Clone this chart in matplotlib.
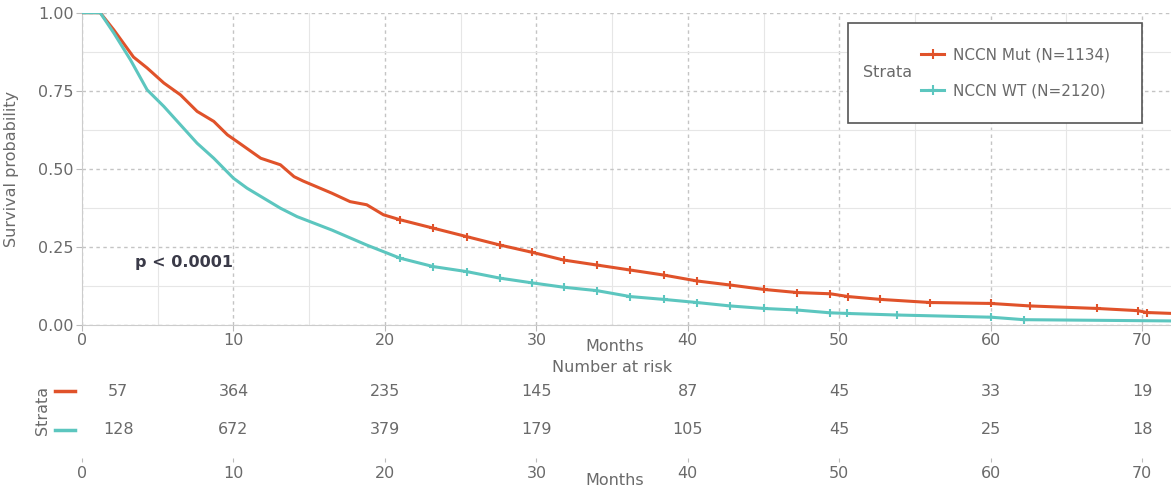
import matplotlib.pyplot as plt
from matplotlib.patches import Rectangle
from matplotlib.lines import Line2D
import numpy as np

plt.rcParams['font.family'] = ['DejaVu Sans']
fs = 11.5

# survival curves (months, survival probability)
mut_t = [0, 1.2, 2.1, 3.4, 4.3, 5.4, 6.5, 7.6, 8.7, 9.6, 10.4, 11.8, 13.1, 14.0, 14.6, 16.5, 17.7, 18.8, 19.9, 21.0,
         23.2, 25.4, 27.6, 29.7, 31.8, 34.0, 36.2, 38.4, 40.6, 42.8, 45.0, 47.2, 49.4, 50.6, 52.7, 56.0, 60.0, 62.6,
         67.0, 69.7, 70.3, 72.0]
mut_s = [1.0, 1.0, 0.945, 0.858, 0.823, 0.775, 0.737, 0.684, 0.652, 0.609, 0.582, 0.534, 0.513, 0.475, 0.461, 0.422,
         0.395, 0.385, 0.353, 0.337, 0.31, 0.283, 0.256, 0.233, 0.208, 0.192, 0.176, 0.16, 0.141, 0.128, 0.114, 0.104,
         0.1, 0.091, 0.082, 0.072, 0.069, 0.061, 0.053, 0.046, 0.04, 0.037]
wt_t = [0, 1.2, 2.1, 3.2, 4.3, 5.4, 6.5, 7.6, 8.7, 10.0, 10.9, 12.0, 13.1, 14.2, 16.5, 18.8, 19.9, 21.0, 23.2, 25.4,
        27.6, 29.7, 31.8, 34.0, 36.2, 38.4, 40.6, 42.8, 45.0, 47.2, 49.4, 50.5, 53.8, 60.0, 62.2, 72.0]
wt_s = [1.0, 1.0, 0.935, 0.849, 0.753, 0.70, 0.641, 0.582, 0.534, 0.47, 0.438, 0.406, 0.374, 0.347, 0.304, 0.256,
        0.235, 0.214, 0.187, 0.171, 0.15, 0.135, 0.121, 0.11, 0.091, 0.082, 0.072, 0.061, 0.053, 0.048, 0.039, 0.037,
        0.032, 0.025, 0.017, 0.013]

labels = ['NCCN Mut (N=1134)', 'NCCN WT (N=2120)']
risk_times = [0, 10, 20, 30, 40, 50, 60, 70]
mut_risk = [57, 364, 235, 145, 87, 45, 33, 19]
wt_risk = [128, 672, 379, 179, 105, 45, 25, 18]

c_mut = '#E0522A'
c_wt = '#5CC6BF'
txt = '#6a6a6a'

fig = plt.figure(figsize=(11.71, 4.88), dpi=100)
W, H = 1171, 488
ax = fig.add_axes([82 / W, 1 - 325 / H, 1089 / W, 312.3 / H])

ax.plot(mut_t, mut_s, color=c_mut, lw=2.2, zorder=3)
ax.plot(wt_t, wt_s, color=c_wt, lw=2.2, zorder=3)
mt, ms = np.array(mut_t), np.array(mut_s)
wt, ws = np.array(wt_t), np.array(wt_s)
ax.plot(mt[(mt > 20) & (mt < 72)], ms[(mt > 20) & (mt < 72)], '+', color=c_mut, ms=6, mew=1.5, zorder=3)
ax.plot(wt[(wt > 20) & (wt < 72)], ws[(wt > 20) & (wt < 72)], '+', color=c_wt, ms=6, mew=1.5, zorder=3)

ax.set_xlim(0, 71.9)
ax.set_ylim(0, 1)
ax.set_xticks(risk_times)
ax.set_yticks([0, 0.25, 0.5, 0.75, 1.0])
ax.set_yticklabels(['0.00', '0.25', '0.50', '0.75', '1.00'])
ax.set_xticks(np.arange(5, 75, 10), minor=True)
ax.set_yticks([0.125, 0.375, 0.625, 0.875], minor=True)
ax.grid(which='major', color='#c4c4c4', ls=(0, (2.5, 2.5)), lw=1)
ax.grid(which='minor', color='#e6e6e6', ls='-', lw=0.8)
ax.tick_params(which='minor', length=0)
ax.tick_params(which='major', colors='#bbbbbb', labelcolor=txt, labelsize=fs, length=4, pad=2)
for s in ['top', 'right']:
    ax.spines[s].set_visible(False)
for s in ['left', 'bottom']:
    ax.spines[s].set_color('#cccccc')
ax.set_ylabel('Survival probability', color=txt, fontsize=fs)
ax.yaxis.set_label_coords(-0.058, 0.5)
ax.set_xlabel('Months', color=txt, fontsize=fs)
ax.xaxis.set_label_coords(0.489, -0.07)
ax.xaxis.label.set_va('center')

ax.text(3.5, 0.2, 'p < 0.0001', fontsize=fs, fontweight='bold', color='#3a3a48', va='center')

# legend box
ax.add_patch(Rectangle((0.703, 0.647), 0.27, 0.32, transform=ax.transAxes, fill=True,
                       facecolor='white', edgecolor='#555555', lw=1.2, zorder=5))
ax.text(0.717, 0.807, 'Strata', transform=ax.transAxes, fontsize=fs, color=txt, va='center', zorder=6)
handles = [Line2D([], [], color=c_mut, lw=2.2, marker='+', ms=7, mew=1.5),
           Line2D([], [], color=c_wt, lw=2.2, marker='+', ms=7, mew=1.5)]
leg = ax.legend(handles, labels, loc='center left', bbox_to_anchor=(0.758, 0.807), frameon=False,
                fontsize=11, handlelength=1.5, handletextpad=0.6, labelspacing=1.4, labelcolor=txt)
leg.set_zorder(7)

# number at risk table
fig.text(612 / W, 1 - 367 / H, 'Number at risk', color=txt, fontsize=fs, ha='center', va='center')
ax2 = fig.add_axes([82 / W, 1 - 458 / H, 1089 / W, 86 / H])
ax2.set_xlim(0, 71.9)
ax2.set_ylim(0, 1)
xs = list(risk_times)
xs[0] = 2.4
for x, a, b in zip(xs, mut_risk, wt_risk):
    ax2.text(x, 0.779, str(a), ha='center', va='center', fontsize=fs, color=txt)
    ax2.text(x, 0.326, str(b), ha='center', va='center', fontsize=fs, color=txt)
for y, c in [(0.779, c_mut), (0.326, c_wt)]:
    ax2.plot([-0.025, -0.0065], [y, y], color=c, lw=2.5, transform=ax2.transAxes, clip_on=False)
ax2.text(-0.036, 0.55, 'Strata', rotation=90, transform=ax2.transAxes, fontsize=fs, color=txt,
         ha='center', va='center')
ax2.set_xticks(risk_times)
ax2.set_yticks([])
ax2.tick_params(axis='x', colors='#bbbbbb', labelcolor=txt, labelsize=fs, length=3, pad=3)
for s in ax2.spines.values():
    s.set_visible(False)
ax2.set_xlabel('Months', color=txt, fontsize=fs)
ax2.xaxis.set_label_coords(0.489, -0.26)
ax2.xaxis.label.set_va('center')

fig.savefig('out.png', dpi=100)
